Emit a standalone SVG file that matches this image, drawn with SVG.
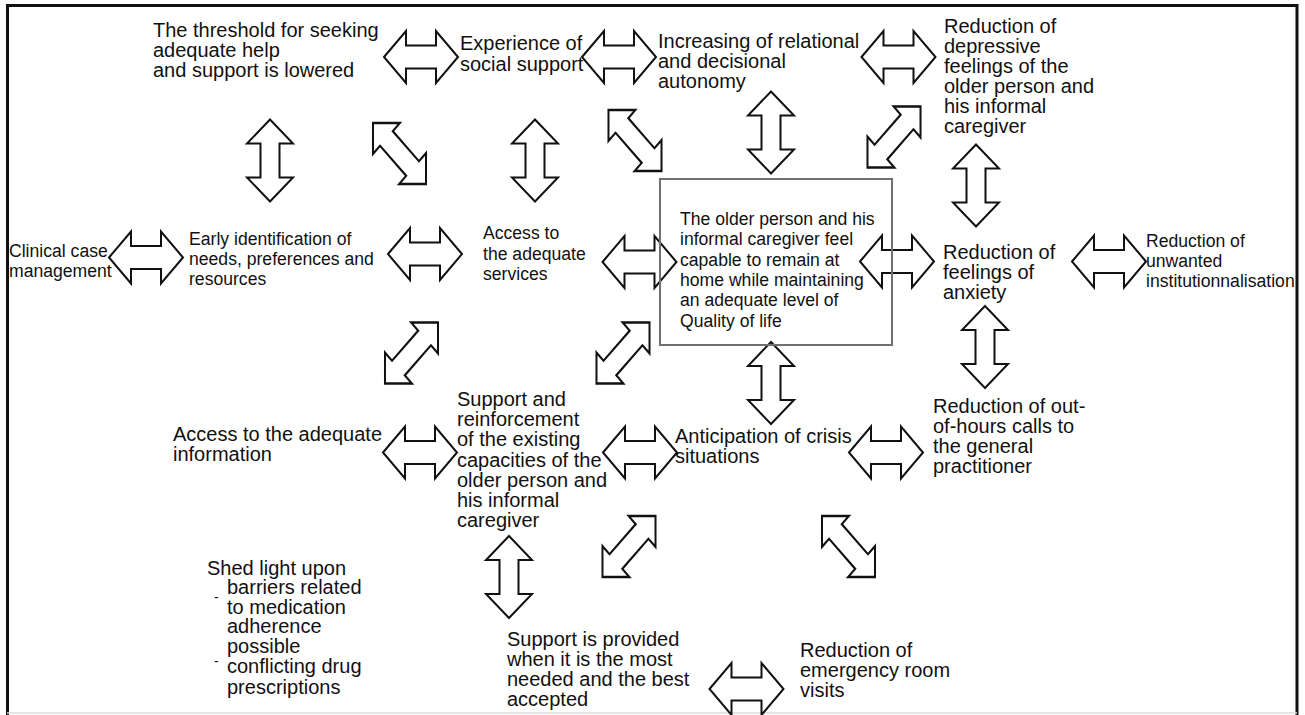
<svg xmlns="http://www.w3.org/2000/svg" xmlns:xlink="http://www.w3.org/1999/xlink" width="1305" height="715" viewBox="0 0 1305 715">
<style>
.t{font-family:"Liberation Sans",Arial,sans-serif;font-size:20px;fill:#111}
.s{font-size:17.6px}
.d{font-size:14px}
.arw{fill:none;stroke:#111;stroke-width:2;stroke-linejoin:miter}
</style>
<defs>
<path id="ha" class="arw" d="M-37,0 L-15,-26 L-15,-11.5 L15,-11.5 L15,-26 L37,0 L15,26 L15,11.5 L-15,11.5 L-15,26 Z"/>
<path id="va" class="arw" d="M0,-41 L23,-17 L9.5,-17 L9.5,17 L23,17 L0,41 L-23,17 L-9.5,17 L-9.5,-17 L-23,-17 Z"/>
<path id="da" class="arw" d="M-37.5,0 L-18.5,-19 L-18.5,-9 L18.5,-9 L18.5,-19 L37.5,0 L18.5,19 L18.5,9 L-18.5,9 L-18.5,19 Z"/>
</defs>
<rect width="1305" height="715" fill="#fff"/>
<g id="frame">
<path d="M7.5,715 V5.5 H1297 V715" fill="none" stroke="#111" stroke-width="3"/>
<line x1="7" y1="713" x2="1297" y2="713" stroke="#ddd" stroke-width="1.5"/>
</g>
<g id="connectors">
<use href="#ha" transform="translate(421,57)"/>
<use href="#ha" transform="translate(619,57)"/>
<use href="#ha" transform="translate(898.5,57)"/>
<use href="#ha" transform="translate(146,257.5)"/>
<use href="#ha" transform="translate(425,254)"/>
<use href="#ha" transform="translate(639.5,262)"/>
<use href="#ha" transform="translate(897,261.5)"/>
<use href="#ha" transform="translate(1109,261.5)"/>
<use href="#ha" transform="translate(420,452.5)"/>
<use href="#ha" transform="translate(640,452.5)"/>
<use href="#ha" transform="translate(886,452.5)"/>
<use href="#ha" transform="translate(746.5,689)"/>
<use href="#va" transform="translate(270,160.5)"/>
<use href="#va" transform="translate(535,160.5)"/>
<use href="#va" transform="translate(771,132.5)"/>
<use href="#va" transform="translate(976,185.5)"/>
<use href="#va" transform="translate(985,347)"/>
<use href="#va" transform="translate(771,383)"/>
<use href="#va" transform="translate(509,577)"/>
<use href="#da" transform="translate(399.5,153.5) scale(1,1.15) rotate(45)"/>
<use href="#da" transform="translate(635,140.5) scale(1,1.15) rotate(45)"/>
<use href="#da" transform="translate(894,137) scale(1,1.15) rotate(-45)"/>
<use href="#da" transform="translate(411.5,353) scale(1,1.15) rotate(-45)"/>
<use href="#da" transform="translate(623,353) scale(1,1.15) rotate(-45)"/>
<use href="#da" transform="translate(629,546.5) scale(1,1.15) rotate(-45)"/>
<use href="#da" transform="translate(848.5,546.5) scale(1,1.15) rotate(45)"/>
</g>
<g id="n_threshold"><text class="t" x="153" y="37"><tspan x="153">The threshold for seeking</tspan><tspan x="153" dy="20">adequate help</tspan><tspan x="153" dy="20">and support is lowered</tspan></text></g>
<g id="n_experience"><text class="t" x="460" y="50"><tspan x="460">Experience of</tspan><tspan x="460" dy="20.5">social support</tspan></text></g>
<g id="n_autonomy"><text class="t" x="658" y="47.7"><tspan x="658">Increasing of relational</tspan><tspan x="658" dy="20">and decisional</tspan><tspan x="658" dy="20">autonomy</tspan></text></g>
<g id="n_depressive"><text class="t" x="944" y="33.3"><tspan x="944">Reduction of</tspan><tspan x="944" dy="20">depressive</tspan><tspan x="944" dy="20">feelings of the</tspan><tspan x="944" dy="20">older person and</tspan><tspan x="944" dy="20">his informal</tspan><tspan x="944" dy="20">caregiver</tspan></text></g>
<g id="n_clinical"><text class="t s" x="9" y="257.3"><tspan x="9">Clinical case</tspan><tspan x="9" dy="20">management</tspan></text></g>
<g id="n_early"><text class="t s" x="189" y="245"><tspan x="189">Early identification of</tspan><tspan x="189" dy="20">needs, preferences and</tspan><tspan x="189" dy="20">resources</tspan></text></g>
<g id="n_services"><text class="t s" x="483" y="239.3"><tspan x="483">Access to</tspan><tspan x="483" dy="20.5">the adequate</tspan><tspan x="483" dy="20">services</tspan></text></g>
<g id="n_central">
<rect x="660" y="179" width="232" height="166" fill="none" stroke="#707070" stroke-width="2"/>
<text class="t s" x="680" y="225"><tspan x="680">The older person and his</tspan><tspan x="680" dy="20.3">informal caregiver feel</tspan><tspan x="680" dy="20.3">capable to remain at</tspan><tspan x="680" dy="20.3">home while maintaining</tspan><tspan x="680" dy="20.3">an adequate level of</tspan><tspan x="680" dy="20.3">Quality of life</tspan></text>
</g>
<g id="n_anxiety"><text class="t" x="943" y="259"><tspan x="943">Reduction of</tspan><tspan x="943" dy="20">feelings of</tspan><tspan x="943" dy="20">anxiety</tspan></text></g>
<g id="n_institution"><text class="t s" x="1146" y="246.7"><tspan x="1146">Reduction of</tspan><tspan x="1146" dy="20">unwanted</tspan><tspan x="1146" dy="20.3">institutionnalisation</tspan></text></g>
<g id="n_information"><text class="t" x="173" y="440.7"><tspan x="173">Access to the adequate</tspan><tspan x="173" dy="20">information</tspan></text></g>
<g id="n_reinforcement"><text class="t" x="457" y="406"><tspan x="457">Support and</tspan><tspan x="457" dy="20.2">reinforcement</tspan><tspan x="457" dy="20.2">of the existing</tspan><tspan x="457" dy="20.2">capacities of the</tspan><tspan x="457" dy="20.2">older person and</tspan><tspan x="457" dy="20.2">his informal</tspan><tspan x="457" dy="20.2">caregiver</tspan></text></g>
<g id="n_crisis"><text class="t" x="675" y="443.3"><tspan x="675">Anticipation of crisis</tspan><tspan x="675" dy="20">situations</tspan></text></g>
<g id="n_outofhours"><text class="t" x="933" y="412.7"><tspan x="933">Reduction of out-</tspan><tspan x="933" dy="20.3">of-hours calls to</tspan><tspan x="933" dy="20">the general</tspan><tspan x="933" dy="20">practitioner</tspan></text></g>
<g id="n_shedlight">
<text class="t" x="207" y="574.5"><tspan x="207">Shed light upon</tspan><tspan x="227" dy="19.8">barriers related</tspan><tspan x="227" dy="19.7">to medication</tspan><tspan x="227" dy="19.4">adherence</tspan><tspan x="227" dy="19.4">possible</tspan><tspan x="227" dy="20.6">conflicting drug</tspan><tspan x="227" dy="20.7">prescriptions</tspan></text>
<text class="t d" x="214" y="602">-</text>
<text class="t d" x="214" y="666">-</text>
</g>
<g id="n_provided"><text class="t" x="507" y="646"><tspan x="507">Support is provided</tspan><tspan x="507" dy="20">when it is the most</tspan><tspan x="507" dy="20">needed and the best</tspan><tspan x="507" dy="20">accepted</tspan></text></g>
<g id="n_emergency"><text class="t" x="800" y="657.3"><tspan x="800">Reduction of</tspan><tspan x="800" dy="20">emergency room</tspan><tspan x="800" dy="20">visits</tspan></text></g>
</svg>
